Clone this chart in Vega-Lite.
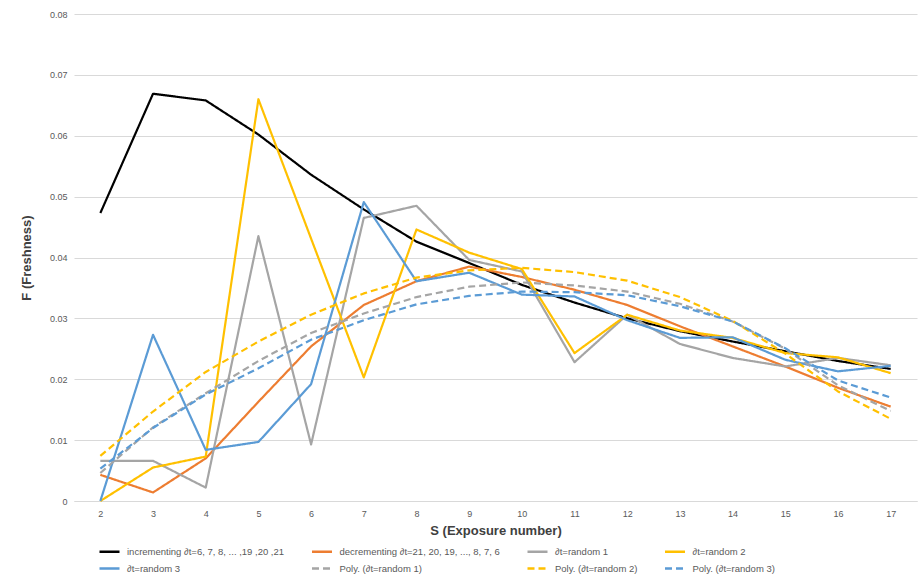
{
  "$schema": "https://vega.github.io/schema/vega-lite/v6.json",
  "width": 843,
  "height": 487,
  "autosize": {"type": "none"},
  "padding": {"left": 74, "top": 14, "right": 3, "bottom": 76},
  "background": "white",
  "config": {
    "font": "Liberation Sans",
    "view": {"stroke": null},
    "axis": {"labelFont": "Liberation Sans", "titleFont": "Liberation Sans"}
  },
  "datasets": {
    "d": [
      {"series": "A", "S": 2, "F": 0.0473}, {"series": "A", "S": 3, "F": 0.0669}, {"series": "A", "S": 4, "F": 0.0658}, {"series": "A", "S": 5, "F": 0.0602},
      {"series": "A", "S": 6, "F": 0.0536}, {"series": "A", "S": 7, "F": 0.0479}, {"series": "A", "S": 8, "F": 0.0426}, {"series": "A", "S": 9, "F": 0.0391},
      {"series": "A", "S": 10, "F": 0.0355}, {"series": "A", "S": 11, "F": 0.0326}, {"series": "A", "S": 12, "F": 0.0300}, {"series": "A", "S": 13, "F": 0.0279},
      {"series": "A", "S": 14, "F": 0.0262}, {"series": "A", "S": 15, "F": 0.0246}, {"series": "A", "S": 16, "F": 0.0230}, {"series": "A", "S": 17, "F": 0.0217},

      {"series": "B", "S": 2, "F": 0.0043}, {"series": "B", "S": 3, "F": 0.0014}, {"series": "B", "S": 4, "F": 0.0070}, {"series": "B", "S": 5, "F": 0.0163},
      {"series": "B", "S": 6, "F": 0.0254}, {"series": "B", "S": 7, "F": 0.0322}, {"series": "B", "S": 8, "F": 0.0361}, {"series": "B", "S": 9, "F": 0.0385},
      {"series": "B", "S": 10, "F": 0.0368}, {"series": "B", "S": 11, "F": 0.0347}, {"series": "B", "S": 12, "F": 0.0322}, {"series": "B", "S": 13, "F": 0.0287},
      {"series": "B", "S": 14, "F": 0.0254}, {"series": "B", "S": 15, "F": 0.0221}, {"series": "B", "S": 16, "F": 0.0186}, {"series": "B", "S": 17, "F": 0.0155},

      {"series": "C", "S": 2, "F": 0.0066}, {"series": "C", "S": 3, "F": 0.0066}, {"series": "C", "S": 4, "F": 0.0022}, {"series": "C", "S": 5, "F": 0.0435},
      {"series": "C", "S": 6, "F": 0.0093}, {"series": "C", "S": 7, "F": 0.0465}, {"series": "C", "S": 8, "F": 0.0485}, {"series": "C", "S": 9, "F": 0.0396},
      {"series": "C", "S": 10, "F": 0.0377}, {"series": "C", "S": 11, "F": 0.0228}, {"series": "C", "S": 12, "F": 0.0306}, {"series": "C", "S": 13, "F": 0.0258},
      {"series": "C", "S": 14, "F": 0.0235}, {"series": "C", "S": 15, "F": 0.0221}, {"series": "C", "S": 16, "F": 0.0235}, {"series": "C", "S": 17, "F": 0.0223},

      {"series": "D", "S": 2, "F": 0.0000}, {"series": "D", "S": 3, "F": 0.0055}, {"series": "D", "S": 4, "F": 0.0073}, {"series": "D", "S": 5, "F": 0.0660},
      {"series": "D", "S": 6, "F": 0.0431}, {"series": "D", "S": 7, "F": 0.0203}, {"series": "D", "S": 8, "F": 0.0446}, {"series": "D", "S": 9, "F": 0.0408},
      {"series": "D", "S": 10, "F": 0.0381}, {"series": "D", "S": 11, "F": 0.0243}, {"series": "D", "S": 12, "F": 0.0306}, {"series": "D", "S": 13, "F": 0.0280},
      {"series": "D", "S": 14, "F": 0.0268}, {"series": "D", "S": 15, "F": 0.0243}, {"series": "D", "S": 16, "F": 0.0236}, {"series": "D", "S": 17, "F": 0.0210},

      {"series": "E", "S": 2, "F": 0.0000}, {"series": "E", "S": 3, "F": 0.0273}, {"series": "E", "S": 4, "F": 0.0084}, {"series": "E", "S": 5, "F": 0.0097},
      {"series": "E", "S": 6, "F": 0.0192}, {"series": "E", "S": 7, "F": 0.0491}, {"series": "E", "S": 8, "F": 0.0361}, {"series": "E", "S": 9, "F": 0.0375},
      {"series": "E", "S": 10, "F": 0.0339}, {"series": "E", "S": 11, "F": 0.0336}, {"series": "E", "S": 12, "F": 0.0297}, {"series": "E", "S": 13, "F": 0.0268},
      {"series": "E", "S": 14, "F": 0.0269}, {"series": "E", "S": 15, "F": 0.0232}, {"series": "E", "S": 16, "F": 0.0213}, {"series": "E", "S": 17, "F": 0.0222},

      {"series": "F", "S": 2, "F": 0.0046}, {"series": "F", "S": 3, "F": 0.0121}, {"series": "F", "S": 4, "F": 0.0177}, {"series": "F", "S": 5, "F": 0.0230},
      {"series": "F", "S": 6, "F": 0.0276}, {"series": "F", "S": 7, "F": 0.0308}, {"series": "F", "S": 8, "F": 0.0335}, {"series": "F", "S": 9, "F": 0.0352},
      {"series": "F", "S": 10, "F": 0.0359}, {"series": "F", "S": 11, "F": 0.0354}, {"series": "F", "S": 12, "F": 0.0344}, {"series": "F", "S": 13, "F": 0.0324},
      {"series": "F", "S": 14, "F": 0.0295}, {"series": "F", "S": 15, "F": 0.0250}, {"series": "F", "S": 16, "F": 0.0190}, {"series": "F", "S": 17, "F": 0.0148},

      {"series": "G", "S": 2, "F": 0.0074}, {"series": "G", "S": 3, "F": 0.0147}, {"series": "G", "S": 4, "F": 0.0212}, {"series": "G", "S": 5, "F": 0.0262},
      {"series": "G", "S": 6, "F": 0.0306}, {"series": "G", "S": 7, "F": 0.0341}, {"series": "G", "S": 8, "F": 0.0367}, {"series": "G", "S": 9, "F": 0.0379},
      {"series": "G", "S": 10, "F": 0.0383}, {"series": "G", "S": 11, "F": 0.0376}, {"series": "G", "S": 12, "F": 0.0362}, {"series": "G", "S": 13, "F": 0.0335},
      {"series": "G", "S": 14, "F": 0.0296}, {"series": "G", "S": 15, "F": 0.0242}, {"series": "G", "S": 16, "F": 0.0180}, {"series": "G", "S": 17, "F": 0.0135},

      {"series": "H", "S": 2, "F": 0.0053}, {"series": "H", "S": 3, "F": 0.0120}, {"series": "H", "S": 4, "F": 0.0175}, {"series": "H", "S": 5, "F": 0.0218},
      {"series": "H", "S": 6, "F": 0.0265}, {"series": "H", "S": 7, "F": 0.0297}, {"series": "H", "S": 8, "F": 0.0323}, {"series": "H", "S": 9, "F": 0.0337},
      {"series": "H", "S": 10, "F": 0.0344}, {"series": "H", "S": 11, "F": 0.0343}, {"series": "H", "S": 12, "F": 0.0338}, {"series": "H", "S": 13, "F": 0.0320},
      {"series": "H", "S": 14, "F": 0.0295}, {"series": "H", "S": 15, "F": 0.0251}, {"series": "H", "S": 16, "F": 0.0198}, {"series": "H", "S": 17, "F": 0.0170}
    ]
  },
  "data": {"name": "d"},
  "mark": {"type": "line", "strokeWidth": 2.2, "strokeJoin": "round"},
  "encoding": {
    "x": {
      "field": "S", "type": "quantitative",
      "scale": {"domain": [1.5, 17.5], "nice": false, "zero": false},
      "axis": {
        "values": [2, 3, 4, 5, 6, 7, 8, 9, 10, 11, 12, 13, 14, 15, 16, 17],
        "grid": false, "ticks": false, "domain": true, "domainColor": "#D9D9D9", "domainWidth": 1,
        "labelColor": "#595959", "labelFontSize": 9, "labelPadding": 8,
        "title": "S (Exposure number)", "titleFontSize": 13, "titleFontWeight": "bold", "titleColor": "#404040", "titlePadding": 6
      }
    },
    "y": {
      "field": "F", "type": "quantitative",
      "scale": {"domain": [0, 0.08], "nice": false},
      "axis": {
        "values": [0, 0.01, 0.02, 0.03, 0.04, 0.05, 0.06, 0.07, 0.08],
        "format": "~g",
        "grid": true, "gridColor": "#D9D9D9", "gridWidth": 1,
        "ticks": false, "domain": false,
        "labelColor": "#595959", "labelFontSize": 9, "labelPadding": 7,
        "title": "F (Freshness)", "titleFontSize": 13, "titleFontWeight": "bold", "titleColor": "#404040", "titlePadding": 16
      }
    },
    "color": {
      "field": "series", "type": "nominal",
      "scale": {
        "domain": ["A", "B", "C", "D", "E", "F", "G", "H"],
        "range": ["#000000", "#ED7D31", "#A5A5A5", "#FFC000", "#5B9BD5", "#A5A5A5", "#FFC000", "#5B9BD5"]
      },
      "legend": {
        "orient": "none", "legendX": 24, "legendY": 526,
        "direction": "horizontal", "columns": 4, "title": null,
        "symbolType": "stroke", "symbolSize": 400, "symbolStrokeWidth": 2.5,
        "labelFontSize": 9.5, "labelColor": "#595959", "labelLimit": 300,
        "columnPadding": 21.5, "rowPadding": 0, "labelOffset": 6,
        "labelExpr": "{'A':'incrementing ∂t=6, 7, 8, ... ,19 ,20 ,21','B':'decrementing ∂t=21, 20, 19, ..., 8, 7, 6','C':'∂t=random 1','D':'∂t=random 2','E':'∂t=random 3','F':'Poly. (∂t=random 1)','G':'Poly. (∂t=random 2)','H':'Poly. (∂t=random 3)'}[datum.value]"
      }
    },
    "strokeDash": {
      "field": "series", "type": "nominal",
      "scale": {
        "domain": ["A", "B", "C", "D", "E", "F", "G", "H"],
        "range": [[1, 0], [1, 0], [1, 0], [1, 0], [1, 0], [7, 4], [7, 4], [7, 4]]
      },
      "legend": {
        "orient": "none", "legendX": 24, "legendY": 526,
        "direction": "horizontal", "columns": 4, "title": null,
        "symbolType": "stroke", "symbolSize": 400, "symbolStrokeWidth": 2.5,
        "labelFontSize": 9.5, "labelColor": "#595959", "labelLimit": 300,
        "columnPadding": 21.5, "rowPadding": 0, "labelOffset": 6,
        "labelExpr": "{'A':'incrementing ∂t=6, 7, 8, ... ,19 ,20 ,21','B':'decrementing ∂t=21, 20, 19, ..., 8, 7, 6','C':'∂t=random 1','D':'∂t=random 2','E':'∂t=random 3','F':'Poly. (∂t=random 1)','G':'Poly. (∂t=random 2)','H':'Poly. (∂t=random 3)'}[datum.value]"
      }
    },
    "detail": {"field": "series"}
  }
}
